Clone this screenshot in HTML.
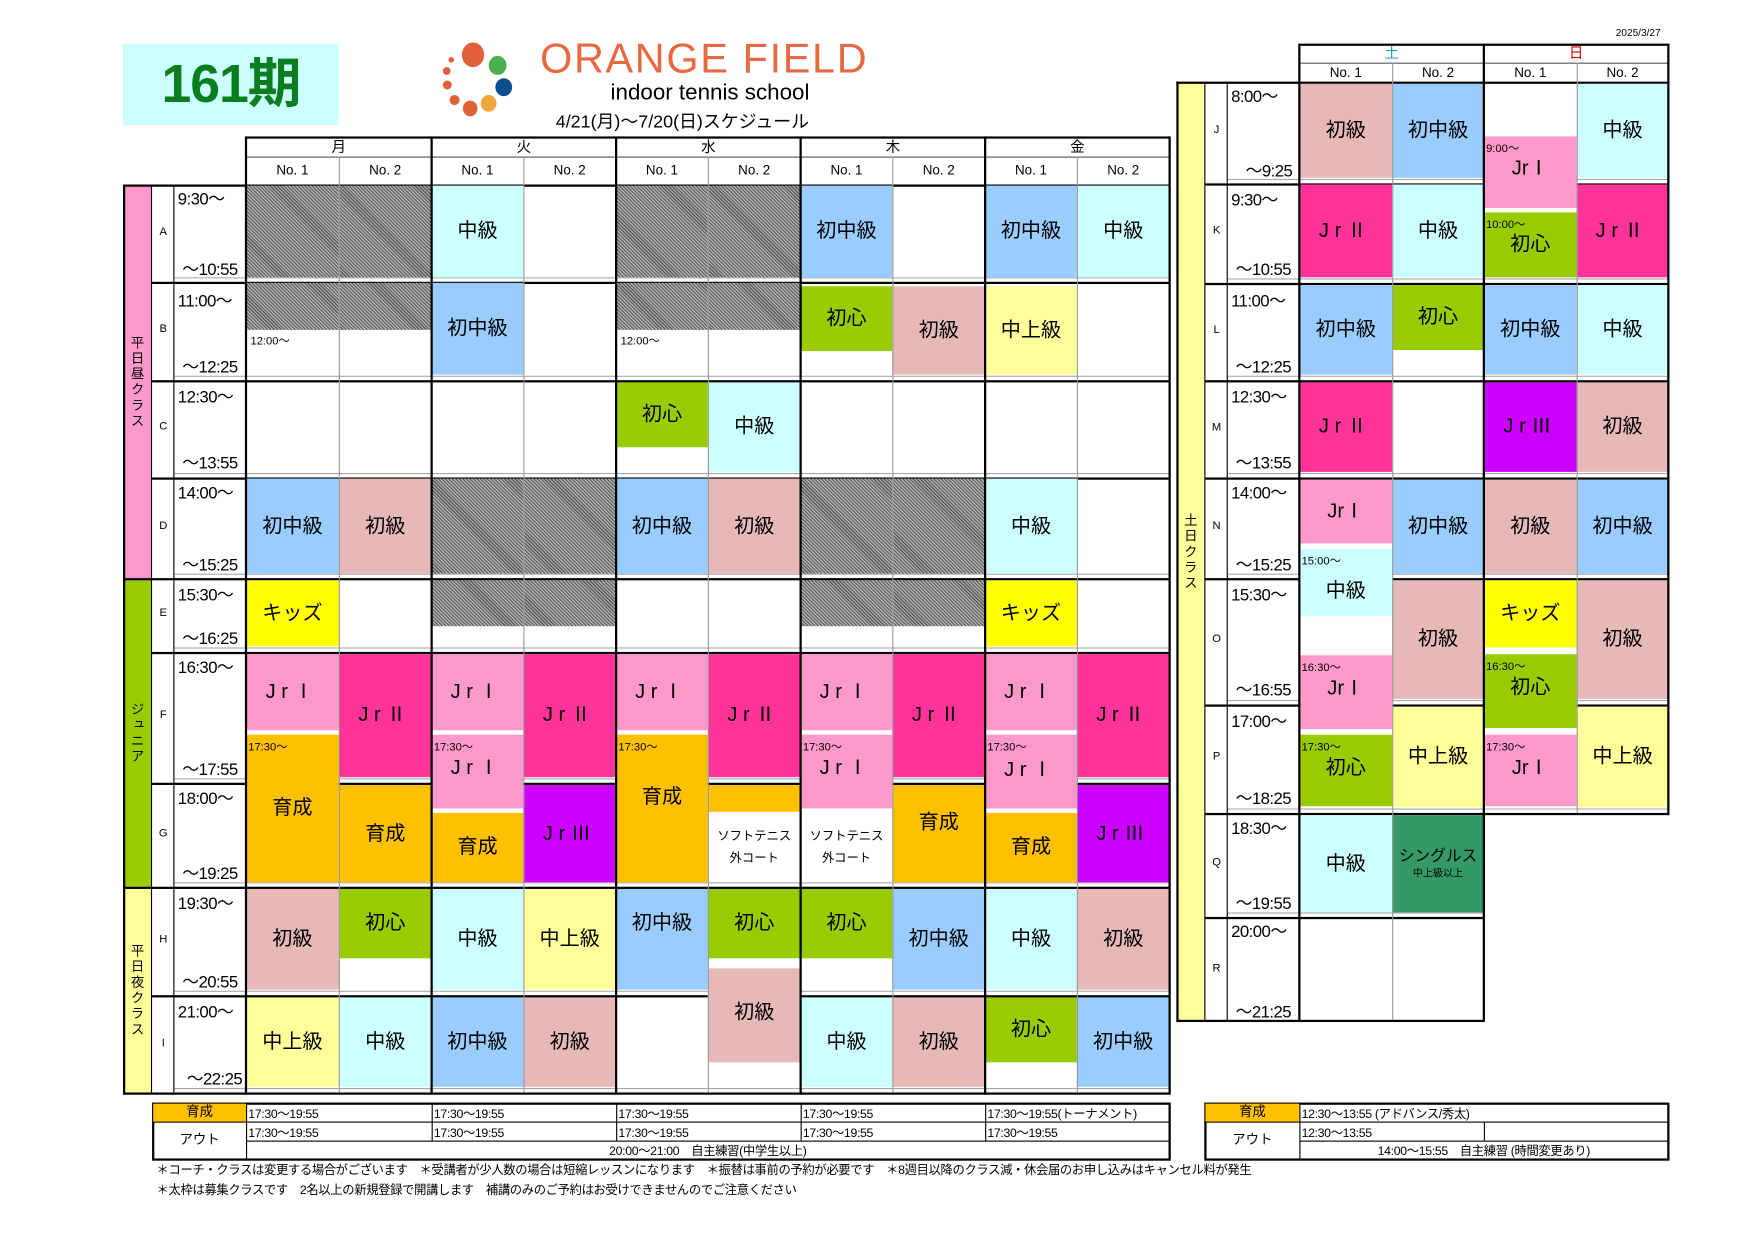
<!DOCTYPE html>
<html><head><meta charset="utf-8">
<style>
html,body{margin:0;padding:0;background:#fff;width:1754px;height:1240px;overflow:hidden}
#w{position:absolute;left:0;top:0;width:1570px;height:1110px;transform:scale(1.1182);transform-origin:0 0;font-family:"Liberation Sans","Noto Sans CJK JP",sans-serif;color:#000}
#w div{position:absolute;box-sizing:border-box}
.c{display:flex;align-items:center;justify-content:center;font-size:18px;text-align:center;line-height:1.1;z-index:3}
.c span{position:relative}
.g{background:repeating-linear-gradient(45deg,#5a5a5a 0 1px,#b0b0b0 1px 2.2px)}
.C{background:#ccffff}.B{background:#99ccff}.P{background:#e6b8b7}.G{background:#99cc00}.Y{background:#ffff99}.K{background:#ffff00}
.J1{background:#ff99cc}.J2{background:#ff3399}.J3{background:#cc00ff}.O{background:#ffc000}.T{background:#339966}
.j{letter-spacing:5px}
.s{font-size:10px;white-space:nowrap;z-index:5}
.vl{background:#000;width:2px;z-index:4}.vt{background:#999;width:1px;z-index:4}
.hl{background:#000;height:2px}.ht{background:#aaa;height:1px}
.tm{font-size:15px;white-space:nowrap;letter-spacing:-0.5px}
.lt{font-size:10px;width:20px;text-align:center}
.band{writing-mode:vertical-rl;font-size:12px;display:flex;align-items:center;justify-content:center;letter-spacing:2px}
.hd{font-size:13px;text-align:center;line-height:17px}
.no{font-size:12px;text-align:center;line-height:24px}
.bt{font-size:11px;white-space:nowrap;letter-spacing:-0.3px}
</style></head><body><div id="w">

<div style="left:110px;top:39px;width:193px;height:73px;background:#ccffff"></div>
<div style="left:110px;top:42px;width:193px;height:68px;font-size:48px;font-weight:bold;color:#0a7d1e;text-align:center;line-height:68px;letter-spacing:-1px">161期</div>
<div style="left:413px;top:38px;width:20px;height:22px;border-radius:50%;background:#e0603a"></div>
<div style="left:437px;top:50px;width:16px;height:17px;border-radius:50%;background:#4caf50"></div>
<div style="left:443px;top:70px;width:15px;height:16px;border-radius:50%;background:#0b4f8f"></div>
<div style="left:430px;top:85px;width:14px;height:15px;border-radius:50%;background:#f0a63a"></div>
<div style="left:414px;top:90px;width:13px;height:14px;border-radius:50%;background:#e0603a"></div>
<div style="left:402px;top:85px;width:9px;height:9px;border-radius:50%;background:#e0603a"></div>
<div style="left:396px;top:72px;width:8px;height:8px;border-radius:50%;background:#e0603a"></div>
<div style="left:396px;top:60px;width:7px;height:7px;border-radius:50%;background:#e0603a"></div>
<div style="left:401px;top:51px;width:5px;height:5px;border-radius:50%;background:#e0603a"></div>
<div style="left:483px;top:32px;width:320px;font-size:37px;color:#e8683f;letter-spacing:1.5px;white-space:nowrap">ORANGE FIELD</div>
<div style="left:546px;top:72px;width:200px;font-size:20px;white-space:nowrap">indoor tennis school</div>
<div style="left:497px;top:95px;width:290px;font-size:16px;white-space:nowrap">4/21(月)～7/20(日)スケジュール</div>
<div style="left:1445px;top:24px;font-size:9px;white-space:nowrap">2025/3/27</div>

<div class="band" style="left:111px;top:166px;width:24px;height:351px;background:#ff99cc">平日昼クラス</div>
<div class="band" style="left:111px;top:519px;width:24px;height:274px;background:#99cc00">ジュニア</div>
<div class="band" style="left:111px;top:795px;width:24px;height:182px;background:#ffff99">平日夜クラス</div>

<div class="hd" style="left:220px;top:123px;width:166px">月</div>
<div class="hd" style="left:386px;top:123px;width:165px">火</div>
<div class="hd" style="left:551px;top:123px;width:165px">水</div>
<div class="hd" style="left:716px;top:123px;width:165px">木</div>
<div class="hd" style="left:881px;top:123px;width:165px">金</div>
<div class="no" style="left:220px;top:140px;width:83px">No. 1</div><div class="no" style="left:303px;top:140px;width:83px">No. 2</div>
<div class="no" style="left:386px;top:140px;width:82px">No. 1</div><div class="no" style="left:468px;top:140px;width:83px">No. 2</div>
<div class="no" style="left:551px;top:140px;width:82px">No. 1</div><div class="no" style="left:633px;top:140px;width:83px">No. 2</div>
<div class="no" style="left:716px;top:140px;width:82px">No. 1</div><div class="no" style="left:798px;top:140px;width:83px">No. 2</div>
<div class="no" style="left:881px;top:140px;width:82px">No. 1</div><div class="no" style="left:963px;top:140px;width:83px">No. 2</div>

<!-- row lines weekday (below cells) -->
<div class="ht" style="left:156px;top:248px;width:890px"></div><div class="hl" style="left:136px;top:252px;width:910px"></div>
<div class="ht" style="left:156px;top:336px;width:890px"></div><div class="hl" style="left:136px;top:340px;width:910px"></div>
<div class="ht" style="left:156px;top:423px;width:890px"></div><div class="hl" style="left:136px;top:427px;width:910px"></div>
<div class="ht" style="left:156px;top:513px;width:890px"></div><div class="hl" style="left:110px;top:517px;width:936px"></div>
<div class="ht" style="left:156px;top:579px;width:890px"></div><div class="hl" style="left:136px;top:583px;width:910px"></div>
<div class="ht" style="left:156px;top:696px;width:890px"></div><div class="hl" style="left:136px;top:700px;width:910px"></div>
<div class="ht" style="left:156px;top:789px;width:890px"></div><div class="hl" style="left:110px;top:793px;width:936px"></div>
<div class="ht" style="left:156px;top:886px;width:890px"></div><div class="hl" style="left:136px;top:890px;width:910px"></div>
<div class="ht" style="left:156px;top:973px;width:890px"></div><div class="hl" style="left:110px;top:977px;width:936px"></div>
<div class="hl" style="left:110px;top:165px;width:936px"></div>
<div class="hl" style="left:220px;top:122px;width:826px"></div>
<div class="ht" style="left:220px;top:140px;width:826px;background:#555"></div>

<!-- 月 No1 -->
<div class="c g" style="left:220px;top:166px;width:83px;height:82px"></div>
<div class="c g" style="left:220px;top:253px;width:83px;height:42px"></div>
<div class="s" style="left:224px;top:296px">12:00～</div>
<div class="c B" style="left:220px;top:428px;width:83px;height:85px">初中級</div>
<div class="c K" style="left:220px;top:519px;width:83px;height:59px">キッズ</div>
<div class="c J1 j" style="left:220px;top:585px;width:83px;height:68px">JrⅠ</div>
<div class="c O" style="left:220px;top:657px;width:83px;height:132px">育成</div><div class="s" style="left:222px;top:659px">17:30～</div>
<div class="c P" style="left:220px;top:795px;width:83px;height:90px">初級</div>
<div class="c Y" style="left:220px;top:892px;width:83px;height:80px">中上級</div>
<!-- 月 No2 -->
<div class="c g" style="left:303px;top:166px;width:83px;height:82px"></div>
<div class="c g" style="left:303px;top:253px;width:83px;height:42px"></div>
<div class="c P" style="left:303px;top:428px;width:83px;height:85px">初級</div>
<div class="c J2 j" style="left:303px;top:585px;width:83px;height:110px">JrⅡ</div>
<div class="c O" style="left:303px;top:702px;width:83px;height:87px">育成</div>
<div class="c G" style="left:303px;top:795px;width:83px;height:62px">初心</div>
<div class="c C" style="left:303px;top:892px;width:83px;height:80px">中級</div>
<!-- 火 No1 -->
<div class="c C" style="left:386px;top:166px;width:82px;height:82px">中級</div>
<div class="c B" style="left:386px;top:253px;width:82px;height:82px">初中級</div>
<div class="c g" style="left:386px;top:428px;width:82px;height:85px"></div>
<div class="c g" style="left:386px;top:519px;width:82px;height:41px"></div>
<div class="c J1 j" style="left:386px;top:585px;width:82px;height:68px">JrⅠ</div>
<div class="c J1 j" style="left:386px;top:657px;width:82px;height:66px"><span style="top:-3px">JrⅠ</span></div><div class="s" style="left:388px;top:659px">17:30～</div>
<div class="c O" style="left:386px;top:727px;width:82px;height:62px">育成</div>
<div class="c C" style="left:386px;top:795px;width:82px;height:90px">中級</div>
<div class="c B" style="left:386px;top:892px;width:82px;height:80px">初中級</div>
<!-- 火 No2 -->
<div class="c g" style="left:468px;top:428px;width:83px;height:85px"></div>
<div class="c g" style="left:468px;top:519px;width:83px;height:41px"></div>
<div class="c J2 j" style="left:468px;top:585px;width:83px;height:110px">JrⅡ</div>
<div class="c J3 j" style="left:468px;top:702px;width:83px;height:87px">JrⅢ</div>
<div class="c Y" style="left:468px;top:795px;width:83px;height:90px">中上級</div>
<div class="c P" style="left:468px;top:892px;width:83px;height:80px">初級</div>
<!-- 水 No1 -->
<div class="c g" style="left:551px;top:166px;width:82px;height:82px"></div>
<div class="c g" style="left:551px;top:253px;width:82px;height:42px"></div>
<div class="s" style="left:555px;top:296px">12:00～</div>
<div class="c G" style="left:551px;top:342px;width:82px;height:58px">初心</div>
<div class="c B" style="left:551px;top:428px;width:82px;height:85px">初中級</div>
<div class="c J1 j" style="left:551px;top:585px;width:82px;height:68px">JrⅠ</div>
<div class="c O" style="left:551px;top:657px;width:82px;height:132px"><span style="top:-10px">育成</span></div><div class="s" style="left:553px;top:659px">17:30～</div>
<div class="c B" style="left:551px;top:795px;width:82px;height:90px"><span style="top:-14px">初中級</span></div>
<!-- 水 No2 -->
<div class="c g" style="left:633px;top:166px;width:83px;height:82px"></div>
<div class="c g" style="left:633px;top:253px;width:83px;height:42px"></div>
<div class="c C" style="left:633px;top:342px;width:83px;height:80px">中級</div>
<div class="c P" style="left:633px;top:428px;width:83px;height:85px">初級</div>
<div class="c J2 j" style="left:633px;top:585px;width:83px;height:110px">JrⅡ</div>
<div class="c O" style="left:633px;top:702px;width:83px;height:24px"></div>
<div class="c" style="left:633px;top:728px;width:83px;height:60px;font-size:11px;line-height:20px">ソフトテニス<br>外コート</div>
<div class="c G" style="left:633px;top:795px;width:83px;height:62px">初心</div>
<div class="c P" style="left:633px;top:866px;width:83px;height:84px"><span style="top:-2px">初級</span></div>
<!-- 木 No1 -->
<div class="c B" style="left:716px;top:166px;width:82px;height:82px">初中級</div>
<div class="c G" style="left:716px;top:256px;width:82px;height:58px">初心</div>
<div class="c g" style="left:716px;top:428px;width:82px;height:85px"></div>
<div class="c g" style="left:716px;top:519px;width:82px;height:41px"></div>
<div class="c J1 j" style="left:716px;top:585px;width:82px;height:68px">JrⅠ</div>
<div class="c J1 j" style="left:716px;top:657px;width:82px;height:66px"><span style="top:-3px">JrⅠ</span></div><div class="s" style="left:718px;top:659px">17:30～</div>
<div class="c" style="left:716px;top:728px;width:82px;height:60px;font-size:11px;line-height:20px">ソフトテニス<br>外コート</div>
<div class="c G" style="left:716px;top:795px;width:82px;height:62px">初心</div>
<div class="c C" style="left:716px;top:892px;width:82px;height:80px">中級</div>
<!-- 木 No2 -->
<div class="c g" style="left:798px;top:428px;width:83px;height:85px"></div>
<div class="c g" style="left:798px;top:519px;width:83px;height:41px"></div>
<div class="c P" style="left:798px;top:256px;width:83px;height:79px">初級</div>
<div class="c J2 j" style="left:798px;top:585px;width:83px;height:110px">JrⅡ</div>
<div class="c O" style="left:798px;top:702px;width:83px;height:87px"><span style="top:-10px">育成</span></div>
<div class="c B" style="left:798px;top:795px;width:83px;height:90px">初中級</div>
<div class="c P" style="left:798px;top:892px;width:83px;height:80px">初級</div>
<!-- 金 No1 -->
<div class="c B" style="left:881px;top:166px;width:82px;height:82px">初中級</div>
<div class="c Y" style="left:881px;top:256px;width:82px;height:79px">中上級</div>
<div class="c C" style="left:881px;top:428px;width:82px;height:85px">中級</div>
<div class="c K" style="left:881px;top:519px;width:82px;height:59px">キッズ</div>
<div class="c J1 j" style="left:881px;top:585px;width:82px;height:68px">JrⅠ</div>
<div class="c J1 j" style="left:881px;top:657px;width:82px;height:66px"><span style="top:-1px">JrⅠ</span></div><div class="s" style="left:883px;top:659px">17:30～</div>
<div class="c O" style="left:881px;top:727px;width:82px;height:62px">育成</div>
<div class="c C" style="left:881px;top:795px;width:82px;height:90px">中級</div>
<div class="c G" style="left:881px;top:892px;width:82px;height:58px">初心</div>
<!-- 金 No2 -->
<div class="c C" style="left:963px;top:166px;width:83px;height:82px">中級</div>
<div class="c J2 j" style="left:963px;top:585px;width:83px;height:110px">JrⅡ</div>
<div class="c J3 j" style="left:963px;top:702px;width:83px;height:87px">JrⅢ</div>
<div class="c P" style="left:963px;top:795px;width:83px;height:90px">初級</div>
<div class="c B" style="left:963px;top:892px;width:83px;height:80px">初中級</div>

<div class="vl" style="left:110px;top:165px;height:814px"></div>
<div class="vl" style="left:135px;top:165px;height:814px;width:1px"></div>
<div class="vl" style="left:155px;top:165px;height:814px;width:1px"></div>
<div class="vl" style="left:219px;top:122px;height:857px"></div>
<div class="vl" style="left:385px;top:122px;height:857px"></div>
<div class="vl" style="left:550px;top:122px;height:857px"></div>
<div class="vl" style="left:715px;top:122px;height:857px"></div>
<div class="vl" style="left:880px;top:122px;height:857px"></div>
<div class="vl" style="left:1045px;top:122px;height:857px"></div>
<div class="vt" style="left:303px;top:140px;height:837px"></div>
<div class="vt" style="left:468px;top:140px;height:837px"></div>
<div class="vt" style="left:633px;top:140px;height:837px"></div>
<div class="vt" style="left:798px;top:140px;height:837px"></div>
<div class="vt" style="left:963px;top:140px;height:837px"></div>

<div class="lt" style="left:136px;top:202px">A</div><div class="tm" style="left:159px;top:167px">9:30～</div><div class="tm" style="left:163px;top:230px">～10:55</div>
<div class="lt" style="left:136px;top:289px">B</div><div class="tm" style="left:159px;top:258px">11:00～</div><div class="tm" style="left:163px;top:317px">～12:25</div>
<div class="lt" style="left:136px;top:376px">C</div><div class="tm" style="left:159px;top:344px">12:30～</div><div class="tm" style="left:163px;top:403px">～13:55</div>
<div class="lt" style="left:136px;top:465px">D</div><div class="tm" style="left:159px;top:430px">14:00～</div><div class="tm" style="left:163px;top:494px">～15:25</div>
<div class="lt" style="left:136px;top:543px">E</div><div class="tm" style="left:159px;top:521px">15:30～</div><div class="tm" style="left:163px;top:560px">～16:25</div>
<div class="lt" style="left:136px;top:634px">F</div><div class="tm" style="left:159px;top:586px">16:30～</div><div class="tm" style="left:163px;top:677px">～17:55</div>
<div class="lt" style="left:136px;top:740px">G</div><div class="tm" style="left:159px;top:703px">18:00～</div><div class="tm" style="left:163px;top:770px">～19:25</div>
<div class="lt" style="left:136px;top:835px">H</div><div class="tm" style="left:159px;top:797px">19:30～</div><div class="tm" style="left:163px;top:867px">～20:55</div>
<div class="lt" style="left:136px;top:928px">I</div><div class="tm" style="left:159px;top:894px">21:00～</div><div class="tm" style="left:167px;top:954px">～22:25</div>

<!-- WEEKEND -->
<div class="band" style="left:1053px;top:75px;width:24px;height:838px;background:#ffff99">土日クラス</div>
<div class="hd" style="left:1162px;top:39px;width:165px;color:#1a9bd7">土</div>
<div class="hd" style="left:1327px;top:39px;width:165px;color:#e00000">日</div>
<div class="no" style="left:1162px;top:53px;width:83px">No. 1</div><div class="no" style="left:1245px;top:53px;width:82px">No. 2</div>
<div class="no" style="left:1327px;top:53px;width:83px">No. 1</div><div class="no" style="left:1410px;top:53px;width:82px">No. 2</div>

<div class="hl" style="left:1162px;top:39px;width:330px"></div>
<div class="ht" style="left:1162px;top:56px;width:330px;background:#555"></div>
<div class="hl" style="left:1052px;top:73px;width:440px"></div>
<div class="ht" style="left:1098px;top:160px;width:394px"></div><div class="hl" style="left:1078px;top:164px;width:414px"></div>
<div class="ht" style="left:1098px;top:249px;width:394px"></div><div class="hl" style="left:1078px;top:253px;width:414px"></div>
<div class="ht" style="left:1098px;top:336px;width:394px"></div><div class="hl" style="left:1078px;top:340px;width:414px"></div>
<div class="ht" style="left:1098px;top:423px;width:394px"></div><div class="hl" style="left:1078px;top:427px;width:414px"></div>
<div class="ht" style="left:1098px;top:513px;width:394px"></div><div class="hl" style="left:1078px;top:517px;width:414px"></div>
<div class="ht" style="left:1098px;top:626px;width:394px"></div><div class="hl" style="left:1078px;top:630px;width:414px"></div>
<div class="ht" style="left:1098px;top:723px;width:394px"></div><div class="hl" style="left:1078px;top:727px;width:414px"></div>
<div class="ht" style="left:1098px;top:816px;width:229px"></div><div class="hl" style="left:1078px;top:820px;width:249px"></div>
<div class="hl" style="left:1052px;top:912px;width:275px"></div>

<div class="c P" style="left:1162px;top:75px;width:83px;height:84px">初級</div>
<div class="c J2 j" style="left:1162px;top:165px;width:83px;height:83px">JrⅡ</div>
<div class="c B" style="left:1162px;top:255px;width:83px;height:80px">初中級</div>
<div class="c J2 j" style="left:1162px;top:342px;width:83px;height:80px">JrⅡ</div>
<div class="c J1" style="left:1162px;top:429px;width:83px;height:57px">JrⅠ</div>
<div class="c C" style="left:1162px;top:491px;width:83px;height:60px"><span style="top:8px">中級</span></div><div class="s" style="left:1164px;top:493px">15:00～</div>
<div class="c J1" style="left:1162px;top:586px;width:83px;height:66px"><span style="top:-3px">JrⅠ</span></div><div class="s" style="left:1164px;top:588px">16:30～</div>
<div class="c G" style="left:1162px;top:657px;width:83px;height:64px"><span style="top:-2px">初心</span></div><div class="s" style="left:1164px;top:659px">17:30～</div>
<div class="c C" style="left:1162px;top:729px;width:83px;height:87px">中級</div>
<div class="c B" style="left:1245px;top:75px;width:82px;height:84px">初中級</div>
<div class="c C" style="left:1245px;top:165px;width:82px;height:83px">中級</div>
<div class="c G" style="left:1245px;top:255px;width:82px;height:58px">初心</div>
<div class="c B" style="left:1245px;top:429px;width:82px;height:84px">初中級</div>
<div class="c P" style="left:1245px;top:519px;width:82px;height:106px">初級</div>
<div class="c Y" style="left:1245px;top:632px;width:82px;height:90px">中上級</div>
<div class="c T" style="left:1245px;top:729px;width:82px;height:87px;flex-direction:column;font-size:14px">シングルス<span style="font-size:9px;margin-top:4px">中上級以上</span></div>
<div class="c J1" style="left:1327px;top:122px;width:83px;height:64px"><span style="top:-3px">JrⅠ</span></div><div class="s" style="left:1329px;top:124px">9:00～</div>
<div class="c G" style="left:1327px;top:190px;width:83px;height:58px">初心</div><div class="s" style="left:1329px;top:192px">10:00～</div>
<div class="c B" style="left:1327px;top:255px;width:83px;height:80px">初中級</div>
<div class="c J3 j" style="left:1327px;top:342px;width:83px;height:80px">JrⅢ</div>
<div class="c P" style="left:1327px;top:429px;width:83px;height:84px">初級</div>
<div class="c K" style="left:1327px;top:519px;width:83px;height:60px">キッズ</div>
<div class="c G" style="left:1327px;top:585px;width:83px;height:66px"><span style="top:-3px">初心</span></div><div class="s" style="left:1329px;top:587px">16:30～</div>
<div class="c J1" style="left:1327px;top:657px;width:83px;height:64px"><span style="top:-2px">JrⅠ</span></div><div class="s" style="left:1329px;top:659px">17:30～</div>
<div class="c C" style="left:1410px;top:75px;width:82px;height:84px">中級</div>
<div class="c J2 j" style="left:1410px;top:165px;width:82px;height:83px">JrⅡ</div>
<div class="c C" style="left:1410px;top:255px;width:82px;height:80px">中級</div>
<div class="c P" style="left:1410px;top:342px;width:82px;height:80px">初級</div>
<div class="c B" style="left:1410px;top:429px;width:82px;height:84px">初中級</div>
<div class="c P" style="left:1410px;top:519px;width:82px;height:106px">初級</div>
<div class="c Y" style="left:1410px;top:632px;width:82px;height:90px">中上級</div>

<div class="vl" style="left:1052px;top:73px;height:841px"></div>
<div class="vl" style="left:1077px;top:73px;height:841px;width:1px"></div>
<div class="vl" style="left:1097px;top:73px;height:841px;width:1px"></div>
<div class="vl" style="left:1161px;top:39px;height:875px"></div>
<div class="vl" style="left:1326px;top:39px;height:875px"></div>
<div class="vl" style="left:1491px;top:39px;height:690px"></div>
<div class="vt" style="left:1245px;top:56px;height:856px"></div>
<div class="vt" style="left:1410px;top:56px;height:671px"></div>

<div class="lt" style="left:1078px;top:111px">J</div><div class="tm" style="left:1101px;top:75px">8:00～</div><div class="tm" style="left:1114px;top:142px">～9:25</div>
<div class="lt" style="left:1078px;top:201px">K</div><div class="tm" style="left:1101px;top:168px">9:30～</div><div class="tm" style="left:1105px;top:230px">～10:55</div>
<div class="lt" style="left:1078px;top:290px">L</div><div class="tm" style="left:1101px;top:258px">11:00～</div><div class="tm" style="left:1105px;top:317px">～12:25</div>
<div class="lt" style="left:1078px;top:377px">M</div><div class="tm" style="left:1101px;top:344px">12:30～</div><div class="tm" style="left:1105px;top:403px">～13:55</div>
<div class="lt" style="left:1078px;top:465px">N</div><div class="tm" style="left:1101px;top:430px">14:00～</div><div class="tm" style="left:1105px;top:494px">～15:25</div>
<div class="lt" style="left:1078px;top:566px">O</div><div class="tm" style="left:1101px;top:521px">15:30～</div><div class="tm" style="left:1105px;top:606px">～16:55</div>
<div class="lt" style="left:1078px;top:671px">P</div><div class="tm" style="left:1101px;top:634px">17:00～</div><div class="tm" style="left:1105px;top:703px">～18:25</div>
<div class="lt" style="left:1078px;top:766px">Q</div><div class="tm" style="left:1101px;top:730px">18:30～</div><div class="tm" style="left:1105px;top:797px">～19:55</div>
<div class="lt" style="left:1078px;top:861px">R</div><div class="tm" style="left:1101px;top:822px">20:00～</div><div class="tm" style="left:1105px;top:894px">～21:25</div>

<!-- BOTTOM -->
<div style="left:136px;top:986px;width:911px;height:52px;border:2px solid #000"></div>
<div class="c O" style="left:137px;top:987px;width:83px;height:16px;font-size:12px">育成</div>
<div class="c" style="left:137px;top:1003px;width:83px;height:33px;font-size:12px">アウト</div>
<div class="ht" style="left:136px;top:1003px;width:910px;background:#000"></div>
<div class="ht" style="left:220px;top:1020px;width:826px;background:#000"></div>
<div class="vl" style="left:220px;top:986px;height:51px;width:1px"></div>
<div class="vl" style="left:386px;top:986px;height:34px;width:1px"></div>
<div class="vl" style="left:551px;top:986px;height:34px;width:1px"></div>
<div class="vl" style="left:716px;top:986px;height:34px;width:1px"></div>
<div class="vl" style="left:881px;top:986px;height:34px;width:1px"></div>
<div class="bt" style="left:222px;top:988px">17:30～19:55</div><div class="bt" style="left:388px;top:988px">17:30～19:55</div><div class="bt" style="left:553px;top:988px">17:30～19:55</div><div class="bt" style="left:718px;top:988px">17:30～19:55</div><div class="bt" style="left:883px;top:988px">17:30～19:55(トーナメント)</div>
<div class="bt" style="left:222px;top:1005px">17:30～19:55</div><div class="bt" style="left:388px;top:1005px">17:30～19:55</div><div class="bt" style="left:553px;top:1005px">17:30～19:55</div><div class="bt" style="left:718px;top:1005px">17:30～19:55</div><div class="bt" style="left:883px;top:1005px">17:30～19:55</div>
<div class="bt" style="left:220px;top:1021px;width:826px;text-align:center">20:00～21:00　自主練習(中学生以上)</div>

<div style="left:1077px;top:986px;width:416px;height:52px;border:2px solid #000"></div>
<div class="c O" style="left:1078px;top:987px;width:84px;height:16px;font-size:12px">育成</div>
<div class="c" style="left:1078px;top:1003px;width:84px;height:33px;font-size:12px">アウト</div>
<div class="ht" style="left:1077px;top:1003px;width:415px;background:#000"></div>
<div class="ht" style="left:1162px;top:1020px;width:330px;background:#000"></div>
<div class="vl" style="left:1162px;top:986px;height:51px;width:1px"></div>
<div class="vl" style="left:1327px;top:1003px;height:17px;width:1px"></div>
<div class="bt" style="left:1164px;top:988px">12:30～13:55 (アドバンス/秀太)</div>
<div class="bt" style="left:1164px;top:1005px">12:30～13:55</div>
<div class="bt" style="left:1162px;top:1021px;width:330px;text-align:center">14:00～15:55　自主練習 (時間変更あり)</div>

<div class="bt" style="left:140px;top:1038px">＊コーチ・クラスは変更する場合がございます　＊受講者が少人数の場合は短縮レッスンになります　＊振替は事前の予約が必要です　＊8週目以降のクラス減・休会届のお申し込みはキャンセル料が発生</div>
<div class="bt" style="left:140px;top:1056px">＊太枠は募集クラスです　2名以上の新規登録で開講します　補講のみのご予約はお受けできませんのでご注意ください</div>

</div></body></html>
